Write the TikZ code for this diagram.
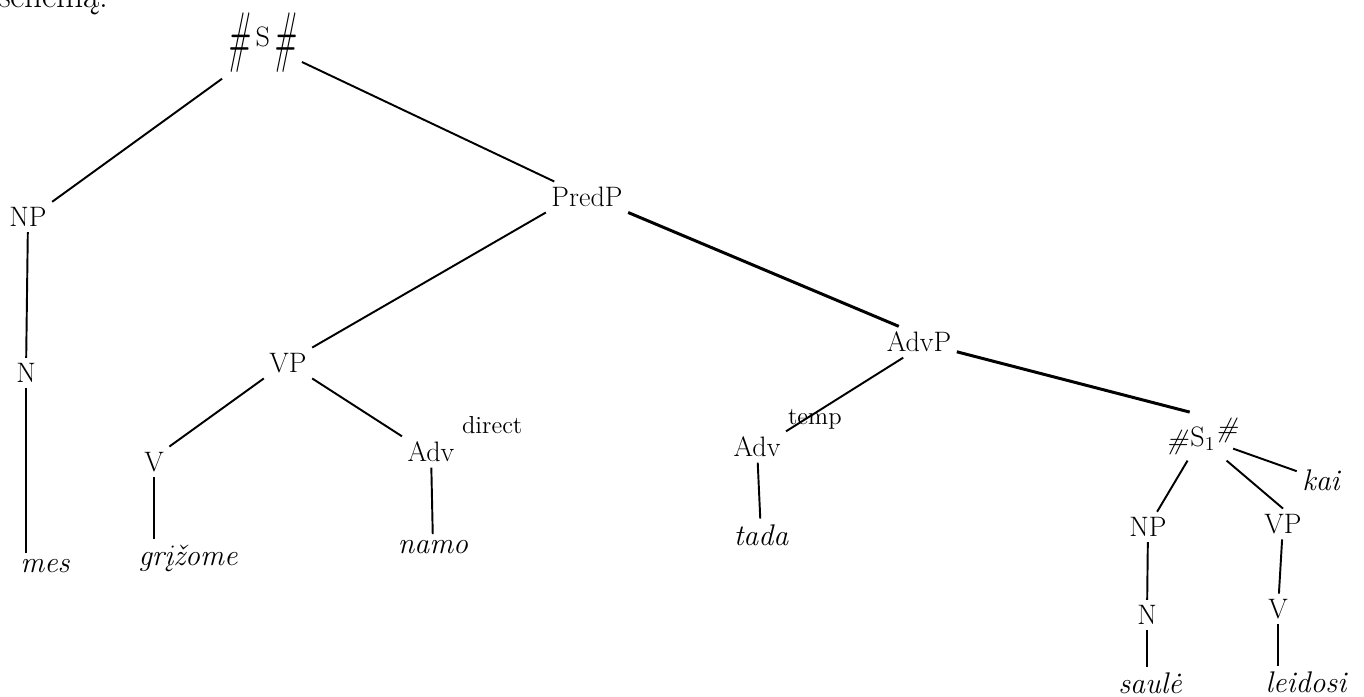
\documentclass[tikz,border=0pt]{standalone}
\usepackage{graphicx}
\newcommand{\hsh}{\textit{\#}}
\newcommand{\bighsh}{\raisebox{-7.4pt}{\scalebox{1}[2.4]{\hsh}}}

\begin{document}
\begin{tikzpicture}[x=0.02cm,y=-0.02cm,inner sep=3pt,
	lbl/.style={font=\fontsize{16}{19}\selectfont},
	word/.style={font=\fontsize{17}{20}\selectfont\itshape, anchor=base},
	sup/.style={font=\fontsize{14}{16}\selectfont, inner sep=1pt, anchor=south west},
	edge/.style={black, line width=1.1pt},
	bold edge/.style={black, line width=1.7pt}]
	\useasboundingbox (0,0) rectangle (1364,696);

	\node[anchor=base west, inner sep=0pt, font=\fontsize{20}{24}\selectfont] at (-2,8) (head) {schemą:};

	\node[lbl, anchor=base] at (262,47) (S) {\bighsh\kern3pt S\kern2pt\bighsh};
	\node[lbl] at (28,217) (NP) {NP};
	\node[lbl] at (26,373) (N) {N};
	\node[word] at (45,572) (mes) {mes};

	\node[lbl] at (587,197) (PredP) {PredP};
	\node[lbl] at (288,363) (VP) {VP};
	\node[lbl] at (154,462) (V) {V};
	\node[word] at (188,565) (grizome) {grįžome};
	\node[lbl] at (431,452) (Adv1) {Adv};
	\node[sup] at (Adv1.north east) (direct) {direct};
	\node[word] at (433,553) (namo) {namo};

	\node[lbl] at (919,342) (AdvP) {AdvP};
	\node[lbl] at (757,447) (Adv2) {Adv};
	\node[sup] at (Adv2.north east) (temp) {temp};
	\node[word] at (761,545) (tada) {tada};

	\node[lbl, anchor=base] at (1202,446) (S1) {\raisebox{-2pt}{\hsh}\kern1pt S\textsubscript{1}\raisebox{5pt}{\hsh}};
	\node[word] at (1321,490) (kai) {kai};
	\node[lbl] at (1148,527) (NP2) {NP};
	\node[lbl] at (1283,524) (VP2) {VP};
	\node[lbl] at (1147,615) (N2) {N};
	\node[lbl] at (1278,609) (V2) {V};
	\node[word] at (1150,693) (saule) {saulė};
	\node[word] at (1306,692) (leidosi) {leidosi};

	\draw[edge] (S.south west)--(NP.north east);
	\draw[edge] (S)--(PredP);
	\draw[edge] (NP)--(N);
	\draw[edge] (N)--(N |- mes.north);

	\draw[edge] (PredP.south west)--(VP.north east);
	\draw[bold edge] (PredP.south east)--([xshift=10pt]AdvP.north west);
	\draw[edge] (VP.south west)--(V.north east);
	\draw[edge] (VP.south east)--(Adv1.north west);
	\draw[edge] (V)--(V |- grizome.north);
	\draw[edge] (Adv1)--(namo);

	\draw[edge] ([xshift=-9pt]AdvP.south)--(Adv2.north east);
	\draw[bold edge] (AdvP)--([xshift=-7pt]S1.north);
	\draw[edge] (Adv2)--(tada);

	\draw[edge] (S1)--(NP2);
	\draw[edge] ([xshift=14pt]S1.south)--(VP2.north);
	\draw[edge] ([xshift=-6pt,yshift=-7pt]S1.east)--(kai);
	\draw[edge] (NP2)--(N2);
	\draw[edge] (N2)--(N2 |- saule.north);
	\draw[edge] (VP2)--(V2);
	\draw[edge] (V2)--(V2 |- leidosi.north);
\end{tikzpicture}
\end{document}
